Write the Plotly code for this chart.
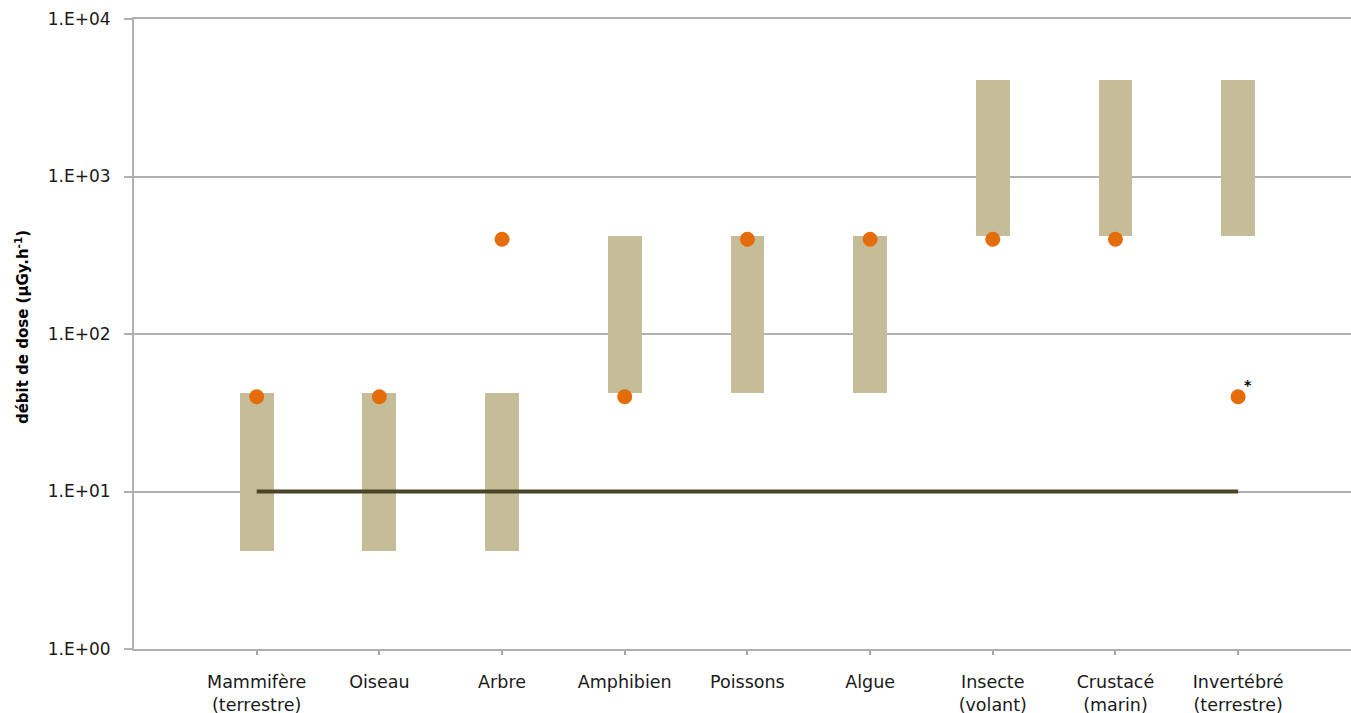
import plotly.graph_objects as go
import math

categories = ["Mammifère<br>(terrestre)", "Oiseau", "Arbre", "Amphibien", "Poissons",
              "Algue", "Insecte<br>(volant)", "Crustacé<br>(marin)", "Invertébré<br>(terrestre)"]
band_low = [4.2, 4.2, 4.2, 42, 42, 42, 420, 420, 420]
band_high = [42, 42, 42, 420, 420, 420, 4100, 4100, 4100]
point_values = [40, 40, 400, 40, 400, 400, 400, 400, 40]
reference_level = 10
ytick_vals = [1, 10, 100, 1000, 10000]
ytick_text = ["1.E+00", "1.E+01", "1.E+02", "1.E+03", "1.E+04"]

xpos = list(range(1, len(categories) + 1))

fig = go.Figure()
fig.add_trace(go.Bar(
    x=xpos, y=[h - l for h, l in zip(band_high, band_low)], base=band_low,
    width=0.275, marker=dict(color="#C4BD97", line=dict(width=0)),
    showlegend=False, hoverinfo="skip"))
fig.add_trace(go.Scatter(
    x=[xpos[0], xpos[-1]], y=[reference_level, reference_level], mode="lines",
    line=dict(color="#4A4529", width=4), showlegend=False))
fig.add_trace(go.Scatter(
    x=xpos, y=point_values, mode="markers",
    marker=dict(color="#E46C0A", size=15, line=dict(width=0)), showlegend=False))

fig.add_annotation(x=xpos[-1], y=math.log10(point_values[-1]), text="<b>*</b>",
                   showarrow=False, xshift=10, yshift=12,
                   font=dict(family="DejaVu Sans", size=14, color="#000000"))

fig.add_annotation(xref="paper", yref="paper", x=-0.092, y=0.511, text="<b>débit de dose (µGy.h<sup>-1</sup>)</b>",
                   textangle=-90, showarrow=False, xanchor="center", yanchor="middle",
                   font=dict(family="DejaVu Sans", size=15, color="#000000"))

fig.update_layout(
    width=1351, height=713,
    margin=dict(l=134, r=0, t=19, b=64),
    plot_bgcolor="white", paper_bgcolor="white",
    bargap=0,
    xaxis=dict(range=[0, 9.92], tickvals=xpos, ticktext=categories, automargin=False,
               showgrid=False, zeroline=False,
               showline=True, linecolor="#B0B0B0", linewidth=1.5, mirror=True,
               ticks="outside", ticklen=4, tickcolor="#A6A6A6", tickwidth=1.5,
               ticklabelstandoff=12,
               tickfont=dict(family="DejaVu Sans", size=17.5, color="#1A1A1A")),
    yaxis=dict(type="log", range=[0, 4], tickvals=ytick_vals, ticktext=ytick_text, automargin=False,
               showgrid=True, gridcolor="#B0B0B0", gridwidth=1.5,
               showline=True, linecolor="#B0B0B0", linewidth=2,
               ticks="outside", ticklen=8, tickcolor="#B0B0B0", tickwidth=1.5,
               ticklabelstandoff=10, zeroline=False,
               tickfont=dict(family="DejaVu Sans", size=17, color="#1A1A1A")),
)

fig.write_html("out.html")
